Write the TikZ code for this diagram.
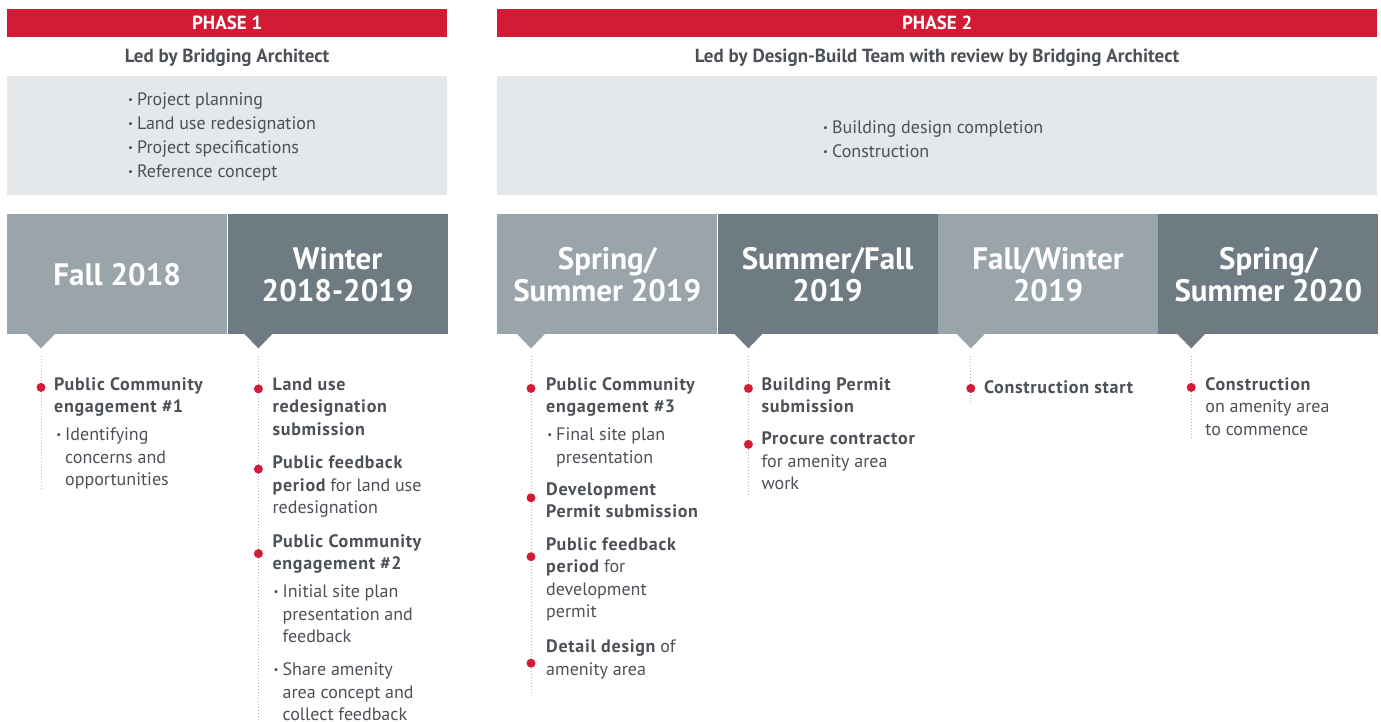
\documentclass[tikz,border=0pt]{standalone}
\usepackage{fontspec}
\setmainfont{PT Sans}
\usepackage{xcolor}
\usepackage{graphicx}
\usetikzlibrary{positioning,calc}

\definecolor{phasered}{HTML}{D41B35}
\definecolor{panelgrey}{HTML}{E5E8EB}
\definecolor{seasonlight}{HTML}{9AA4AB}
\definecolor{seasondark}{HTML}{6F7B83}
\definecolor{ink}{HTML}{4C5157}
\definecolor{leadergrey}{HTML}{B5B9BD}

\newcommand{\fs}[2]{\fontsize{#1}{#2}\selectfont}
\newcommand{\bul}{\raisebox{0.12em}{\scalebox{0.6}{\textbullet}}\hspace{4pt}}
% milestone headings are set a touch wider
\newcommand{\hd}[1]{{\bfseries\addfontfeature{LetterSpace=4}#1}}

\begin{document}
\begin{tikzpicture}[
    x=1pt, y=-1pt,
    phasebar/.style={fill=phasered, text=white, font=\fs{19}{21}\bfseries, minimum height=28pt, minimum width=440pt, inner sep=0, anchor=north west},
    ledby/.style={text=ink, font=\fs{19}{21}\bfseries, inner sep=0, anchor=base},
    panel/.style={fill=panelgrey, minimum height=119pt, inner sep=0, anchor=north west},
    listtext/.style={text=ink, font=\fs{18}{24}, align=left, inner sep=0, anchor=west, execute at begin node={\fs{18}{24}\strut}, execute at end node=\strut},
    season/.style={text=white, font=\fs{31}{32}\bfseries, align=center, minimum height=120pt, minimum width=220pt, inner sep=0},
    item/.style={text=ink, font=\fs{18}{22.5}, align=left, inner sep=0, execute at begin node={\fs{18}{22.5}\strut}, execute at end node=\strut},
    dot/.style={circle, fill=phasered, inner sep=0, minimum size=9pt},
    leader/.style={draw=leadergrey, line width=1pt, dash pattern=on 1pt off 2pt}
]
\useasboundingbox (0,0) rectangle (1381,722);

% phase headers
\node[phasebar] (p1bar) at (7,9) {PHASE 1};
\node[phasebar, minimum width=880pt] (p2bar) at (497,9) {PHASE 2};
\node[ledby] (p1lead) at (227,63) {Led by Bridging Architect};
\node[ledby] (p2lead) at (937,63) {Led by Design-Build Team with review by Bridging Architect};
\node[panel, minimum width=440pt] (p1panel) at (7,76) {};
\node[panel, minimum width=880pt] (p2panel) at (497,76) {};
\node[listtext] (p1list) at (128,139) {\bul Project planning\\\bul Land use redesignation\\\bul Project specifications\\\bul Reference concept};
\node[listtext] (p2list) at (823,143) {\bul Building design completion\\\bul Construction};

% season blocks
\node[season, fill=seasonlight, anchor=north west] (fall18) at (7,214) {Fall 2018};
\node[season, fill=seasondark, right=0pt of fall18] (win18) {Winter\\2018-2019};
\node[season, fill=seasonlight, anchor=north west] (spr19) at (497,214) {Spring/\\Summer 2019};
\node[season, fill=seasondark, right=0pt of spr19] (sum19) {Summer/Fall\\2019};
\node[season, fill=seasonlight, right=0pt of sum19] (fw19) {Fall/Winter\\2019};
\node[season, fill=seasondark, right=0pt of fw19] (spr20) {Spring/\\Summer 2020};

% pointers under each block
\coordinate (c1x) at ($(fall18.south west)+(34,0)$);
\coordinate (c2x) at ($(win18.south west)+(31,0)$);
\coordinate (c3x) at ($(spr19.south west)+(34,0)$);
\coordinate (c4x) at ($(sum19.south west)+(31,0)$);
\coordinate (c5x) at ($(fw19.south west)+(33,0)$);
\coordinate (c6x) at ($(spr20.south west)+(33,0)$);
\fill[seasonlight] ($(c1x)+(-14,-0.5)$) -- ++(28,0) -- ++(-14,14.5) -- cycle;
\fill[seasondark] ($(c2x)+(-14,-0.5)$) -- ++(28,0) -- ++(-14,14.5) -- cycle;
\fill[seasonlight] ($(c3x)+(-14,-0.5)$) -- ++(28,0) -- ++(-14,14.5) -- cycle;
\fill[seasondark] ($(c4x)+(-14,-0.5)$) -- ++(28,0) -- ++(-14,14.5) -- cycle;
\fill[seasonlight] ($(c5x)+(-14,-0.5)$) -- ++(28,0) -- ++(-14,14.5) -- cycle;
\fill[seasondark] ($(c6x)+(-14,-0.5)$) -- ++(28,0) -- ++(-14,14.5) -- cycle;

% milestones, column by column
\node[item, below right=43pt and 47pt of fall18.south west] (c1a) {\hd{Public Community}\\\hd{engagement \#1}};
\node[item, below right=8pt and 11pt of c1a.south west] (c1b) {\llap{\bul}Identifying\\concerns and\\opportunities};

\node[item, below right=43pt and 45pt of win18.south west] (c2a) {\hd{Land use}\\\hd{redesignation}\\\hd{submission}};
\node[item, below right=13.5pt and 0pt of c2a.south west] (c2b) {\hd{Public feedback}\\\hd{period} for land use\\redesignation};
\node[item, below right=13.5pt and 0pt of c2b.south west] (c2c) {\hd{Public Community}\\\hd{engagement \#2}};
\node[item, below right=8pt and 10pt of c2c.south west] (c2d) {\llap{\bul}Initial site plan\\presentation and\\feedback};
\node[item, below right=13pt and 0pt of c2d.south west] (c2e) {\llap{\bul}Share amenity\\area concept and\\collect feedback};

\node[item, below right=43pt and 49pt of spr19.south west] (c3a) {\hd{Public Community}\\\hd{engagement \#3}};
\node[item, below right=8pt and 10pt of c3a.south west] (c3b) {\llap{\bul}Final site plan\\presentation};
\node[item, below left=12pt and 10pt of c3b.south west, anchor=north west] (c3c) {\hd{Development}\\\hd{Permit submission}};
\node[item, below right=12.5pt and 0pt of c3c.south west] (c3d) {\hd{Public feedback}\\\hd{period} for\\development\\permit};
\node[item, below right=15pt and 0pt of c3d.south west] (c3e) {\hd{Detail design} of\\amenity area};

\node[item, below right=43pt and 44pt of sum19.south west] (c4a) {\hd{Building Permit}\\\hd{submission}};
\node[item, below right=12pt and 0pt of c4a.south west] (c4b) {\hd{Procure contractor}\\for amenity area\\work};

\node[item, below right=43pt and 46pt of fw19.south west] (c5a) {\hd{Construction start}};

\node[item, below right=43pt and 47pt of spr20.south west] (c6a) {\hd{Construction}\\on amenity area\\to commence};

% dotted leaders
\coordinate (c1top) at ($(c1x)+(0,22)$);  \coordinate (c1end) at ($(c1x)+(0,156)$);
\coordinate (c2top) at ($(c2x)+(0,22)$);  \coordinate (c2end) at ($(c2x)+(0,400)$);
\coordinate (c3top) at ($(c3x)+(0,22)$);  \coordinate (c3end) at ($(c3x)+(0,361)$);
\coordinate (c4top) at ($(c4x)+(0,22)$);  \coordinate (c4end) at ($(c4x)+(0,161)$);
\coordinate (c5top) at ($(c5x)+(0,22)$);  \coordinate (c5end) at ($(c5x)+(0,70)$);
\coordinate (c6top) at ($(c6x)+(0,22)$);  \coordinate (c6end) at ($(c6x)+(0,106)$);
\draw[leader] (c1top) -- (c1end);
\draw[leader] (c2top) -- (c2end);
\draw[leader] (c3top) -- (c3end);
\draw[leader] (c4top) -- (c4end);
\draw[leader] (c5top) -- (c5end);
\draw[leader] (c6top) -- (c6end);

% red markers
\node[dot] (c1a dot) at ($(c1a.north -| c1top)+(0,10)$) {};
\node[dot] (c2a dot) at ($(c2a.north -| c2top)+(0,11.5)$) {};
\node[dot] (c2b dot) at ($(c2b.north -| c2top)+(0,13.5)$) {};
\node[dot] (c2c dot) at ($(c2c.north -| c2top)+(0,19.5)$) {};
\node[dot] (c3a dot) at ($(c3a.north -| c3top)+(0,11)$) {};
\node[dot] (c3c dot) at ($(c3c.north -| c3top)+(0,15.5)$) {};
\node[dot] (c3d dot) at ($(c3d.north -| c3top)+(0,19.5)$) {};
\node[dot] (c3e dot) at ($(c3e.north -| c3top)+(0,23.5)$) {};
\node[dot] (c4a dot) at ($(c4a.north -| c4top)+(0,11)$) {};
\node[dot] (c4b dot) at ($(c4b.north -| c4top)+(0,12.5)$) {};
\node[dot] (c5a dot) at ($(c5a.north -| c5top)+(0,11)$) {};
\node[dot] (c6a dot) at ($(c6a.north -| c6top)+(0,10)$) {};
\end{tikzpicture}
\end{document}
